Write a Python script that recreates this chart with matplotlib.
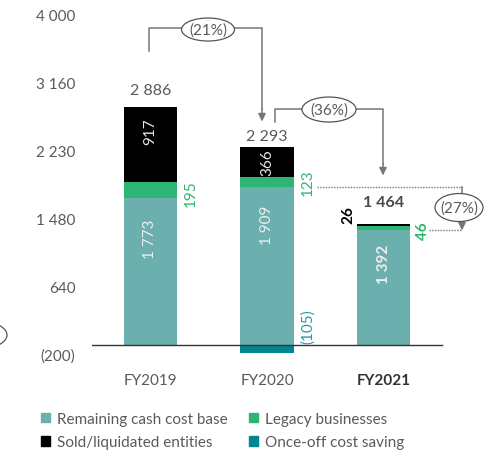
import matplotlib
matplotlib.use("Agg")
import matplotlib.pyplot as plt
from matplotlib.patches import Ellipse, Patch
import numpy as np

plt.rcParams['font.family'] = ['Lato', 'DejaVu Sans']

# ---- data ----
years = ["FY2019", "FY2020", "FY2021"]
remaining = [1773, 1909, 1392]
legacy = [195, 123, 46]
sold = [917, 366, 26]
once_off = [0, -105, 0]
totals = [2886, 2293, 1464]
ytick_labels = ["4 000", "3 160", "2 230", "1 480", "640", "(200)"]
pct_changes = ["(21%)", "(36%)", "(27%)"]
legend_labels = ["Remaining cash cost base", "Legacy businesses",
                 "Sold/liquidated entities", "Once-off cost saving"]

C_REM = "#6bb0ae"
C_LEG = "#2db673"
C_SOLD = "#000000"
C_ONCE = "#00868f"
GREY = "#5a5a5a"
LINE = "#777777"

def fmt(v):
    s = f"{abs(v):,}".replace(",", " ")
    return f"({s})" if v < 0 else s

W, H = 484, 452
fig = plt.figure(figsize=(W / 100, H / 100), dpi=100)
ax_bottom_px = 362
ax = fig.add_axes([92 / W, (H - ax_bottom_px) / H, (W - 92) / W, ax_bottom_px / H])

XC0, XSTEP = 150.5, 116.5
ax.set_xlim((92 - XC0) / XSTEP, (W - XC0) / XSTEP)
ax.set_ylim(-200, 4194)
ppu = ax_bottom_px / (4194 + 200)  # pixels per unit
def px(n):
    return n / ppu

x = np.arange(len(years))
bw = 0.455
ax.bar(x, remaining, bw, color=C_REM, zorder=2)
ax.bar(x, legacy, bw, bottom=remaining, color=C_LEG, zorder=2)
bottom_sold = np.array(remaining) + np.array(legacy)
ax.bar(x, sold, bw, bottom=bottom_sold, color=C_SOLD, zorder=2)
ax.bar(x, once_off, bw, color=C_ONCE, zorder=2)

ax.plot([(92 - XC0) / XSTEP, (442 - XC0) / XSTEP], [0, 0], color="#333333", lw=1.0, zorder=3)

# totals above bars
tot_off = [17, 11, 22]
for i, t in enumerate(totals):
    bold = i == 2
    top = remaining[i] + legacy[i] + sold[i]
    ax.text(x[i], top + px(tot_off[i]), fmt(t), ha="center", va="center",
            fontsize=11.5, color="#4a4a4a" if bold else GREY,
            fontweight="bold" if bold else "normal")

# inside labels
for i in range(3):
    ax.text(x[i], remaining[i] - px([40, 37, 34][i]), fmt(remaining[i]), rotation=90,
            ha="center", va="center", fontsize=11, color="#eeeeee",
            fontweight="bold" if i == 2 else "normal")
for i in range(2):
    stop = bottom_sold[i] + sold[i]
    ax.text(x[i], stop - px([24, 15][i]), fmt(sold[i]), rotation=90,
            ha="center", va="center", fontsize=11, color="#e6e6e6")

# side labels
ax.text(x[0] + bw / 2 + 14 / XSTEP, remaining[0] + legacy[0] / 2 - px(2), fmt(legacy[0]),
        rotation=90, ha="center", va="center", fontsize=11, color=C_LEG)
ax.text(x[1] + bw / 2 + 14 / XSTEP, remaining[1] + legacy[1] / 2 + px(0), fmt(legacy[1]),
        rotation=90, ha="center", va="center", fontsize=11, color=C_LEG)
ax.text(x[1] + bw / 2 + 14 / XSTEP, px(346 - 327), fmt(once_off[1]),
        rotation=90, ha="center", va="center", fontsize=11, color="#2a9aa3")
ax.text(x[2] - bw / 2 - 9 / XSTEP, totals[2] + px(10), fmt(sold[2]),
        rotation=90, ha="center", va="center", fontsize=11, color="#000000", fontweight="bold")
ax.text(x[2] + bw / 2 + 13 / XSTEP, remaining[2] + px(0), fmt(legacy[2]),
        rotation=90, ha="center", va="center", fontsize=11, color=C_LEG, fontweight="bold")

def X(p):
    return (p - XC0) / XSTEP
def Y(p):
    return (346 - p) / ppu

def bubble(cx, cy, w, h, label):
    e = Ellipse((X(cx), Y(cy)), w / XSTEP, h / ppu, facecolor="white",
                edgecolor="#555555", lw=0.9, zorder=5, clip_on=False)
    ax.add_patch(e)
    ax.text(X(cx), Y(cy), label, ha="center", va="center", fontsize=11,
            color=GREY, zorder=6, clip_on=False)

arrow_kw = dict(arrowstyle="-|>,head_length=0.45,head_width=0.22", color=LINE, lw=1.1,
                shrinkA=0, shrinkB=0)

# (21%)
ax.plot([X(149), X(149), X(262), X(262)], [Y(52), Y(29), Y(29), Y(110)], color=LINE, lw=1.1, zorder=4)
ax.annotate("", xy=(X(262), Y(123)), xytext=(X(262), Y(110)), arrowprops=arrow_kw)
bubble(208, 31, 53, 23, pct_changes[0])

# (36%)
ax.plot([X(275), X(275), X(383), X(383)], [Y(123), Y(110), Y(110), Y(165)], color=LINE, lw=1.1, zorder=4)
ax.annotate("", xy=(X(383), Y(177)), xytext=(X(383), Y(165)), arrowprops=arrow_kw)
bubble(329, 111, 54, 25, pct_changes[1])

# (27%)
ax.plot([X(317), X(462)], [Y(188), Y(188)], color=LINE, lw=1.0, ls=(0, (1, 1)), zorder=4, clip_on=False)
ax.plot([X(462), X(462)], [Y(188), Y(196)], color=LINE, lw=1.1, zorder=4, clip_on=False)
ax.plot([X(429), X(462)], [Y(231), Y(231)], color=LINE, lw=1.0, ls=(0, (1, 1)), zorder=4, clip_on=False)
ax.annotate("", xy=(X(462), Y(232)), xytext=(X(462), Y(222)), arrowprops=arrow_kw,
            annotation_clip=False)
bubble(459, 209, 48, 28, pct_changes[2])

# fragment at left edge
fig.patches.append(Ellipse((-17 / W, 1 - 336 / H), 48 / W, 26 / H, transform=fig.transFigure,
                           facecolor="none", edgecolor="#555555", lw=0.9))

# axes styling
ax.set_xticks(x)
ax.set_xticklabels(years, fontsize=11, color=GREY)
ax.get_xticklabels()[2].set_fontweight("bold")
ax.get_xticklabels()[2].set_color("#333333")
ax.set_yticks(np.linspace(4000, -120, 6))
ax.set_yticklabels(ytick_labels, fontsize=11, color=GREY)
ax.tick_params(axis="both", length=0)
ax.tick_params(axis="x", pad=9)
ax.tick_params(axis="y", pad=12)
for s in ax.spines.values():
    s.set_visible(False)
ax.patch.set_alpha(0)

handles = [Patch(color=C_REM), Patch(color=C_LEG), Patch(color=C_SOLD), Patch(color=C_ONCE)]
order = [0, 2, 1, 3]
fig.legend([handles[i] for i in order], [legend_labels[i] for i in order], ncol=2,
           loc="upper left", bbox_to_anchor=(41 / W, 1 - 413 / H), frameon=False,
           fontsize=11, handlelength=0.6, handleheight=0.6, handletextpad=0.45,
           columnspacing=1.4, labelspacing=0.6, borderpad=0, borderaxespad=0,
           labelcolor=GREY)

fig.savefig("out.png", dpi=100)
